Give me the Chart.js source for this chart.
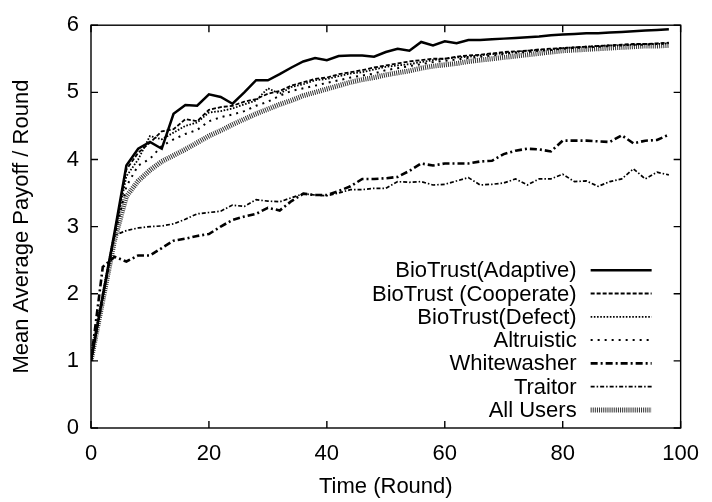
<!DOCTYPE html>
<html>
<head>
<meta charset="utf-8">
<script src="https://cdn.jsdelivr.net/npm/chart.js@4/dist/chart.umd.min.js"></script>
<style>
  body { margin: 0; background: #fff; }
  #wrap { width: 712px; height: 502px; }
</style>
</head>
<body>
<div id="wrap"><canvas id="payoffChart"></canvas></div>
<script>
// Runden (x-Werte)
const rounds = [0, 2, 4, 6, 8, 10, 12, 14, 16, 18, 20, 22, 24, 26, 28, 30, 32, 34, 36, 38,
  40, 42, 44, 46, 48, 50, 52, 54, 56, 58, 60, 62, 64, 66, 68, 70, 72, 74, 76, 78,
  80, 82, 84, 86, 88, 90, 92, 94, 96, 98];

const xTicks = [0, 20, 40, 60, 80, 100];
const yTicks = [0, 1, 2, 3, 4, 5, 6];

const adaptive = [1.0, 1.97, 2.92, 3.91, 4.16, 4.26, 4.16, 4.68, 4.81, 4.8, 4.97, 4.93, 4.83, 5.0, 5.18, 5.18, 5.27, 5.37, 5.46, 5.51,
  5.48, 5.54, 5.55, 5.55, 5.53, 5.6, 5.65, 5.62, 5.75, 5.7, 5.76, 5.73, 5.78, 5.78, 5.79, 5.8, 5.81, 5.82, 5.83, 5.85,
  5.86, 5.87, 5.88, 5.88, 5.89, 5.9, 5.91, 5.92, 5.93, 5.94];
const cooperate = [1.0, 1.95, 2.9, 3.85, 4.1, 4.25, 4.42, 4.45, 4.6, 4.57, 4.74, 4.78, 4.8, 4.86, 4.9, 4.98, 5.02, 5.1, 5.15, 5.2,
  5.22, 5.27, 5.3, 5.33, 5.37, 5.4, 5.43, 5.46, 5.48, 5.5, 5.5, 5.53, 5.55, 5.56, 5.58, 5.6, 5.61, 5.62, 5.64, 5.65,
  5.66, 5.67, 5.68, 5.69, 5.7, 5.71, 5.72, 5.72, 5.73, 5.74];
const defect = [1.0, 1.95, 2.88, 3.75, 4.0, 4.35, 4.3, 4.4, 4.5, 4.55, 4.7, 4.72, 4.76, 4.82, 4.88, 5.06, 4.98, 5.08, 5.12, 5.18,
  5.2, 5.24, 5.28, 5.3, 5.34, 5.38, 5.4, 5.42, 5.45, 5.48, 5.5, 5.52, 5.53, 5.55, 5.57, 5.58, 5.6, 5.62, 5.63, 5.64,
  5.66, 5.67, 5.68, 5.69, 5.7, 5.7, 5.71, 5.72, 5.72, 5.73];
const altruistic = [1.0, 1.92, 2.85, 3.6, 3.91, 4.01, 4.2, 4.3, 4.38, 4.44, 4.57, 4.63, 4.67, 4.72, 4.8, 4.86, 4.95, 5.02, 5.06, 5.1,
  5.14, 5.18, 5.22, 5.25, 5.28, 5.33, 5.36, 5.39, 5.42, 5.45, 5.47, 5.49, 5.51, 5.53, 5.55, 5.57, 5.59, 5.6, 5.62, 5.63,
  5.65, 5.66, 5.67, 5.68, 5.69, 5.7, 5.71, 5.71, 5.72, 5.73];
const whitewasher = [1.0, 2.4, 2.55, 2.48, 2.57, 2.57, 2.68, 2.79, 2.82, 2.86, 2.89, 3.0, 3.1, 3.15, 3.19, 3.28, 3.24, 3.38, 3.49, 3.47,
  3.47, 3.53, 3.6, 3.71, 3.71, 3.72, 3.74, 3.83, 3.94, 3.91, 3.94, 3.94, 3.94, 3.97, 3.98, 4.08, 4.13, 4.16, 4.15, 4.12,
  4.28, 4.28, 4.28, 4.27, 4.26, 4.36, 4.24, 4.28, 4.29, 4.37];
const traitor = [1.0, 2.0, 2.87, 2.94, 2.98, 3.0, 3.01, 3.04, 3.11, 3.19, 3.21, 3.23, 3.32, 3.3, 3.4, 3.38, 3.37, 3.43, 3.49, 3.47,
  3.46, 3.5, 3.55, 3.55, 3.57, 3.57, 3.67, 3.66, 3.67, 3.62, 3.63, 3.68, 3.73, 3.62, 3.63, 3.65, 3.71, 3.62, 3.71, 3.71,
  3.78, 3.67, 3.68, 3.6, 3.67, 3.71, 3.86, 3.71, 3.81, 3.77];
const allUsers = [1.0, 1.9, 2.8, 3.45, 3.68, 3.84, 3.97, 4.06, 4.15, 4.25, 4.35, 4.43, 4.52, 4.6, 4.68, 4.75, 4.82, 4.88, 4.95, 5.0,
  5.05, 5.1, 5.15, 5.19, 5.22, 5.26, 5.29, 5.32, 5.36, 5.39, 5.41, 5.43, 5.46, 5.48, 5.5, 5.52, 5.54, 5.56, 5.58, 5.6,
  5.62, 5.63, 5.64, 5.65, 5.66, 5.67, 5.68, 5.69, 5.69, 5.7];

const FONT = { family: '"Liberation Sans", Arial, sans-serif', size: 22 };

function toPoints(values) {
  return values.map((v, i) => ({ x: rounds[i], y: v }));
}

function line(label, values, width, dash, color) {
  return {
    label: label,
    data: toPoints(values),
    borderColor: color || '#000',
    borderWidth: width,
    borderDash: dash,
    borderCapStyle: 'butt',
    pointRadius: 0,
    tension: 0,
    fill: false
  };
}

// Rahmen, Ticks nach innen und Legende unten rechts
const framePlugin = {
  id: 'frame',
  afterDatasetsDraw(chart) {
    const { ctx, chartArea: a, scales } = chart;
    ctx.save();
    ctx.strokeStyle = '#000';
    ctx.lineWidth = 1.4;
    ctx.setLineDash([]);
    ctx.strokeRect(a.left, a.top, a.right - a.left, a.bottom - a.top);
    ctx.beginPath();
    xTicks.forEach(v => {
      const px = scales.x.getPixelForValue(v);
      ctx.moveTo(px, a.bottom); ctx.lineTo(px, a.bottom - 7);
      ctx.moveTo(px, a.top); ctx.lineTo(px, a.top + 7);
    });
    yTicks.forEach(v => {
      const py = scales.y.getPixelForValue(v);
      ctx.moveTo(a.left, py); ctx.lineTo(a.left + 7, py);
      ctx.moveTo(a.right, py); ctx.lineTo(a.right - 7, py);
    });
    ctx.stroke();

    // Legende
    const sets = chart.data.datasets;
    const rowH = 23.3;
    const lastY = a.bottom - 18;
    ctx.font = FONT.size + 'px ' + FONT.family;
    ctx.textAlign = 'right';
    ctx.textBaseline = 'middle';
    ctx.fillStyle = '#000';
    sets.forEach((ds, i) => {
      const y = lastY - (sets.length - 1 - i) * rowH;
      ctx.fillText(ds.label, a.right - 104, y + 1);
      ctx.beginPath();
      ctx.strokeStyle = ds.borderColor;
      ctx.lineWidth = ds.borderWidth;
      ctx.lineCap = 'butt';
      ctx.setLineDash(ds.borderDash || []);
      ctx.moveTo(a.right - 90, y);
      ctx.lineTo(a.right - 29, y);
      ctx.stroke();
    });
    ctx.restore();
  }
};

new Chart(document.getElementById('payoffChart'), {
  type: 'line',
  data: {
    datasets: [
      line('BioTrust(Adaptive)', adaptive, 2.5, []),
      line('BioTrust (Cooperate)', cooperate, 1.8, [4, 2]),
      line('BioTrust(Defect)', defect, 1.8, [1.6, 1.6]),
      line('Altruistic', altruistic, 2, [2, 5]),
      line('Whitewasher', whitewasher, 2.6, [7, 3, 2, 3]),
      line('Traitor', traitor, 1.7, [4, 2, 1.5, 2]),
      line('All Users', allUsers, 5, [1, 1.1], '#333')
    ]
  },
  options: {
    responsive: true,
    maintainAspectRatio: false,
    animation: false,
    layout: { padding: { top: 17, right: 25, left: 0, bottom: 0 } },
    plugins: {
      legend: { display: false },
      tooltip: { enabled: false }
    },
    scales: {
      x: {
        type: 'linear',
        min: 0,
        max: 100,
        afterBuildTicks: s => { s.ticks = xTicks.map(v => ({ value: v })); },
        afterFit: s => { s.height = 74; },
        grid: { display: false, drawTicks: false },
        border: { display: false },
        ticks: { color: '#000', font: FONT, padding: 13, maxRotation: 0 },
        title: { display: true, text: 'Time (Round)', color: '#000', font: FONT, padding: { top: 0, bottom: 2 } }
      },
      y: {
        type: 'linear',
        min: 0,
        max: 6,
        afterBuildTicks: s => { s.ticks = yTicks.map(v => ({ value: v })); },
        afterFit: s => { s.width = 91; },
        grid: { display: false, drawTicks: false },
        border: { display: false },
        ticks: { color: '#000', font: FONT, padding: 12 },
        title: { display: true, text: 'Mean Average Payoff / Round', color: '#000', font: FONT, padding: { top: 9, bottom: 0 } }
      }
    }
  },
  plugins: [framePlugin]
});
</script>
</body>
</html>
